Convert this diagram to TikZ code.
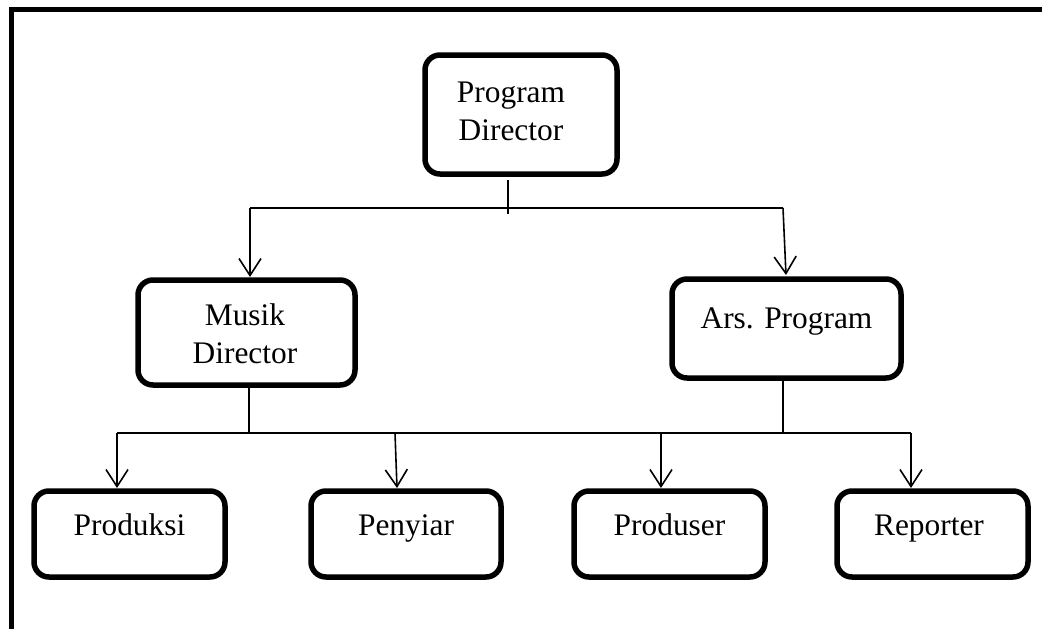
\documentclass[tikz,border=0pt]{standalone}
\usepackage{fontspec}
\setmainfont{Liberation Serif}
\usetikzlibrary{arrows.meta,calc}
\tikzset{
  box/.style={draw, line width=5.5pt, rounded corners=15pt, inner sep=0pt},
  txt/.style={align=center, inner sep=0pt, font=\fontsize{31.4}{38}\selectfont},
  one/.style={txt, text height=20.7pt, text depth=0pt},
  conn/.style={line width=1.6pt},
  arr/.style={line width=1.6pt, -{Straight Barb[length=17pt,width=22pt,line width=1.6pt]}},
  frame/.style={line width=5.5pt}
}
\begin{document}
\begin{tikzpicture}[x=1pt,y=-1pt]
\useasboundingbox (0,0) rectangle (1042,629);
% outer frame
\coordinate (fbl) at (11.5,629);
\coordinate (ftl) at (11.5,9.7);
\coordinate (ftr) at (1042,9.7);
\draw[frame] (fbl) -- (ftl) -- (ftr);

% boxes
\node[box, minimum width=192pt, minimum height=119pt] (pd) at (521,114.5) {};
\node[txt] (pdt) at (511,111.5) {Program\\Director};

\node[box, minimum width=217pt, minimum height=105pt] (md) at (246.5,332.5) {};
\node[txt] (mdt) at (245,334) {Musik\\Director};

\node[box, minimum width=229pt, minimum height=99pt] (ap) at (786.5,328.5) {};
\node[one] (apt) at (786.5,318) {Ars. Program};

\node[box, minimum width=191pt, minimum height=86pt] (b1) at (129.5,534) {};
\node[one] (b1t) at (129.5,525) {Produksi};
\node[box, minimum width=190pt, minimum height=86pt] (b2) at (406,534) {};
\node[one] (b2t) at (406,525) {Penyiar};
\node[box, minimum width=191pt, minimum height=86pt] (b3) at (669.5,534) {};
\node[one] (b3t) at (669.5,525) {Produser};
\node[box, minimum width=191pt, minimum height=86pt] (b4) at (932.5,534) {};
\node[one] (b4t) at (929,525) {Reporter};

% level 1 connectors
\coordinate (pdtop) at (508,180);
\coordinate (pdbot) at (508,214);
\coordinate (h1l) at (250,208);
\coordinate (h1r) at (783,208);
\draw[conn] (pdtop) -- (pdbot);
\draw[conn] (h1l) -- (h1r);
\draw[arr] (h1l) -- (250,277);
\draw[arr] (h1r) -- (786,275);

% level 2 connectors
\coordinate (mdj) at (249,433);
\coordinate (apj) at (783,433);
\coordinate (h2l) at (117,433);
\coordinate (h2r) at (911,433);
\draw[conn] (md.south -| mdj) -- (mdj);
\draw[conn] (ap.south -| apj) -- (apj);
\draw[conn] (h2l) -- (h2r);
\coordinate (j2) at (395,433);
\coordinate (j3) at (661,433);
\draw[arr] (h2l) -- (117,488);
\draw[arr] (j2) -- (397,488);
\draw[arr] (j3) -- (661,488);
\draw[arr] (h2r) -- (911,488);
\end{tikzpicture}
\end{document}
